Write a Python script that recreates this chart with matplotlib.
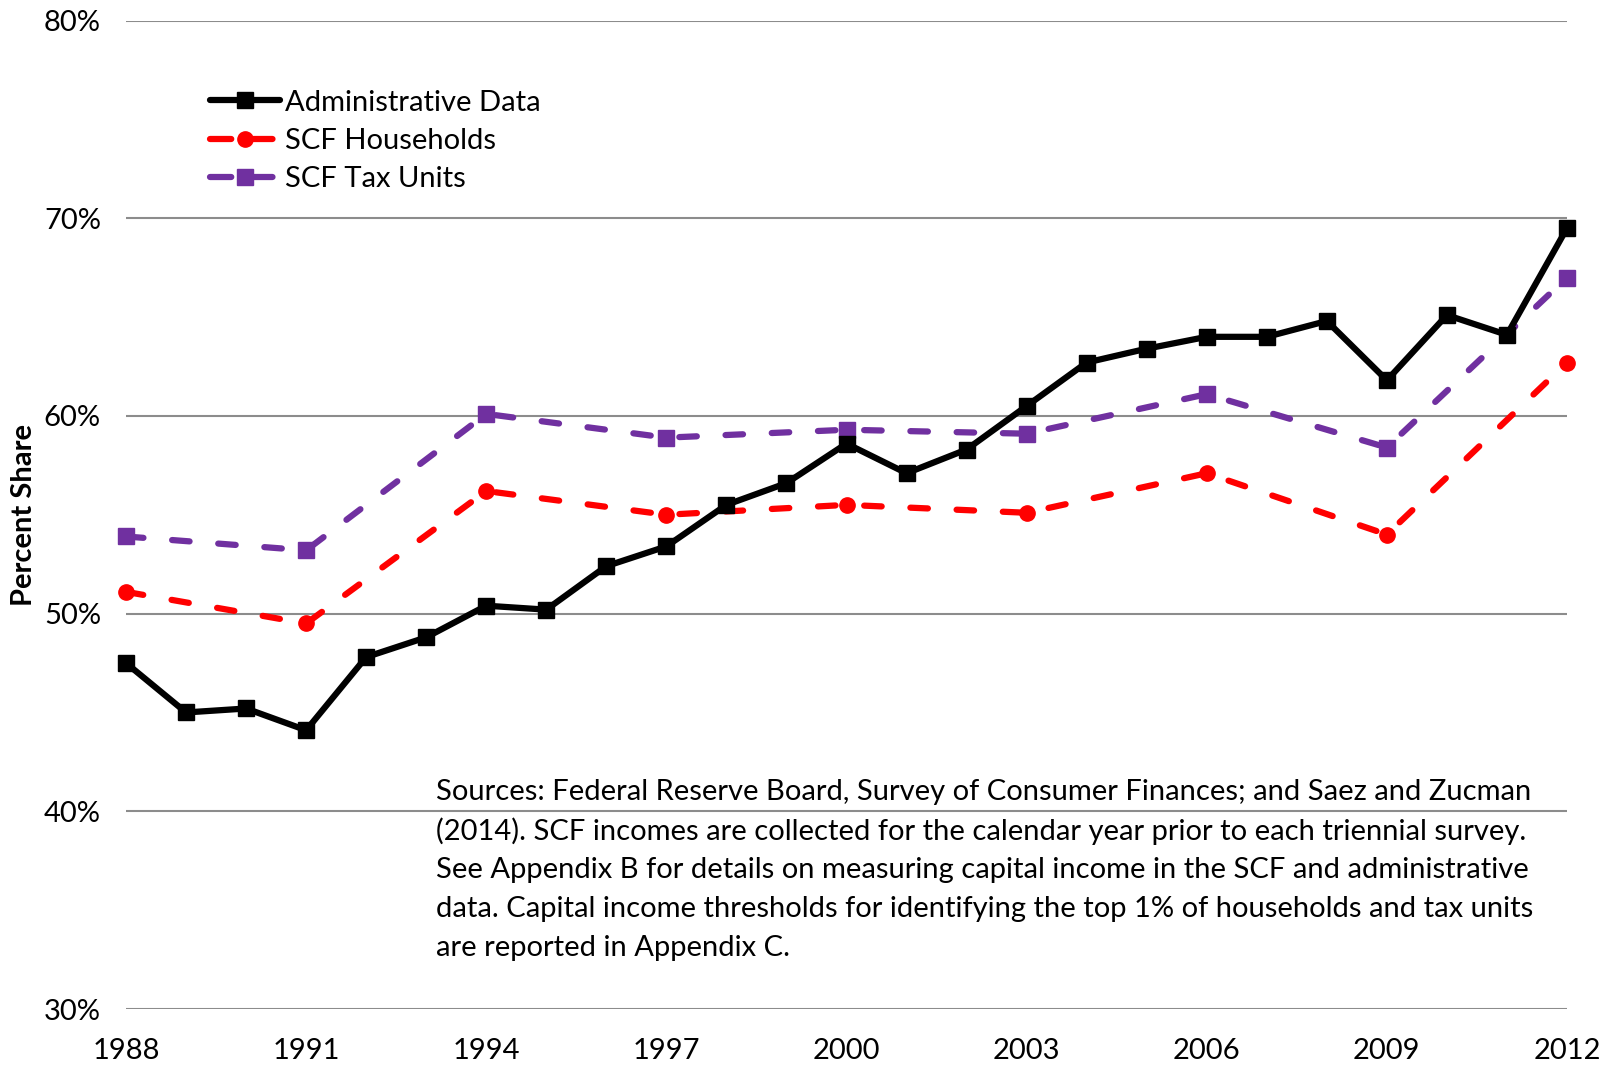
import matplotlib
matplotlib.use("Agg")
import matplotlib.pyplot as plt
from matplotlib.lines import Line2D
from matplotlib.ticker import FuncFormatter

plt.rcParams['font.family'] = ['Lato', 'DejaVu Sans']

# ------------------------------ Data ------------------------------

admin_years = list(range(1988, 2013))
admin_share = [47.5, 45.0, 45.2, 44.1, 47.8, 48.8, 50.4, 50.2, 52.4, 53.4,
               55.5, 56.6, 58.6, 57.1, 58.3, 60.5, 62.7, 63.4, 64.0, 64.0,
               64.8, 61.8, 65.1, 64.1, 69.5]

scf_years = [1988, 1991, 1994, 1997, 2000, 2003, 2006, 2009, 2012]
scf_households = [51.1, 49.5, 56.2, 55.0, 55.5, 55.1, 57.1, 54.0, 62.7]
scf_tax_units = [53.9, 53.2, 60.1, 58.9, 59.3, 59.1, 61.1, 58.4, 67.0]

x_ticks = [1988, 1991, 1994, 1997, 2000, 2003, 2006, 2009, 2012]
y_ticks = [30, 40, 50, 60, 70, 80]

note_lines = [
    "Sources: Federal Reserve Board, Survey of Consumer Finances; and Saez and Zucman",
    "(2014). SCF incomes are collected for the calendar year prior to each triennial survey.",
    "See Appendix B for details on measuring capital income in the SCF and administrative",
    "data. Capital income thresholds for identifying the top 1% of households and tax units",
    "are reported in Appendix C.",
]

# ------------------------------ Plot ------------------------------

FS = 21
LW = 4.5
MS = 11
PURPLE = '#7030A0'
DASH = (2.8, 4.6)

fig = plt.figure(figsize=(16.06, 10.67), dpi=100)
ax = fig.add_axes([126 / 1606, 58 / 1067, 1441 / 1606, 988.5 / 1067])

ax.plot(admin_years, admin_share, color='black', lw=LW, marker='s',
        markersize=MS, clip_on=False, zorder=5)
ax.plot(scf_years, scf_households, color='red', lw=LW, marker='o',
        markersize=MS, dashes=DASH, dash_capstyle='round',
        clip_on=False, zorder=4)
ax.plot(scf_years, scf_tax_units, color=PURPLE, lw=LW, marker='s',
        markersize=MS, dashes=DASH, dash_capstyle='round',
        clip_on=False, zorder=3)

ax.set_xlim(1988, 2012)
ax.set_ylim(30, 80)
ax.set_xticks(x_ticks)
ax.set_yticks(y_ticks)
ax.yaxis.set_major_formatter(FuncFormatter(lambda v, p: f"{v:.0f}%"))
ax.grid(axis='y', color='#8c8c8c', lw=1.5)
ax.set_axisbelow(True)
for s in ax.spines.values():
    s.set_visible(False)
ax.tick_params(axis='both', length=0, labelsize=FS)
ax.tick_params(axis='y', pad=18)
ax.tick_params(axis='x', pad=21)

ax.set_ylabel('Percent Share', fontsize=FS, fontweight='bold')
ax.yaxis.set_label_coords(-0.062, 0.5)

# legend handles: dash - marker - dash like the original
leg_dash = (3.4, 3.2)
handles = [
    Line2D([], [], color='black', lw=LW, marker='s', markersize=MS,
           solid_capstyle='round'),
    Line2D([], [], color='red', lw=LW, marker='o', markersize=MS,
           dashes=leg_dash, dash_capstyle='round'),
    Line2D([], [], color=PURPLE, lw=LW, marker='s', markersize=MS,
           dashes=leg_dash, dash_capstyle='round'),
]
labels = ['Administrative Data', 'SCF Households', 'SCF Tax Units']
ax.legend(handles, labels, loc='upper left', bbox_to_anchor=(0.058, 0.93),
          frameon=False, fontsize=FS, handlelength=2.4, handletextpad=0.2,
          labelspacing=0.42, borderpad=0, borderaxespad=0)

for i, line in enumerate(note_lines):
    fig.text(436 / 1606, 1 - (792 + 39 * i) / 1067, line, fontsize=FS,
             ha='left', va='center')

fig.savefig('out.png', dpi=100)
